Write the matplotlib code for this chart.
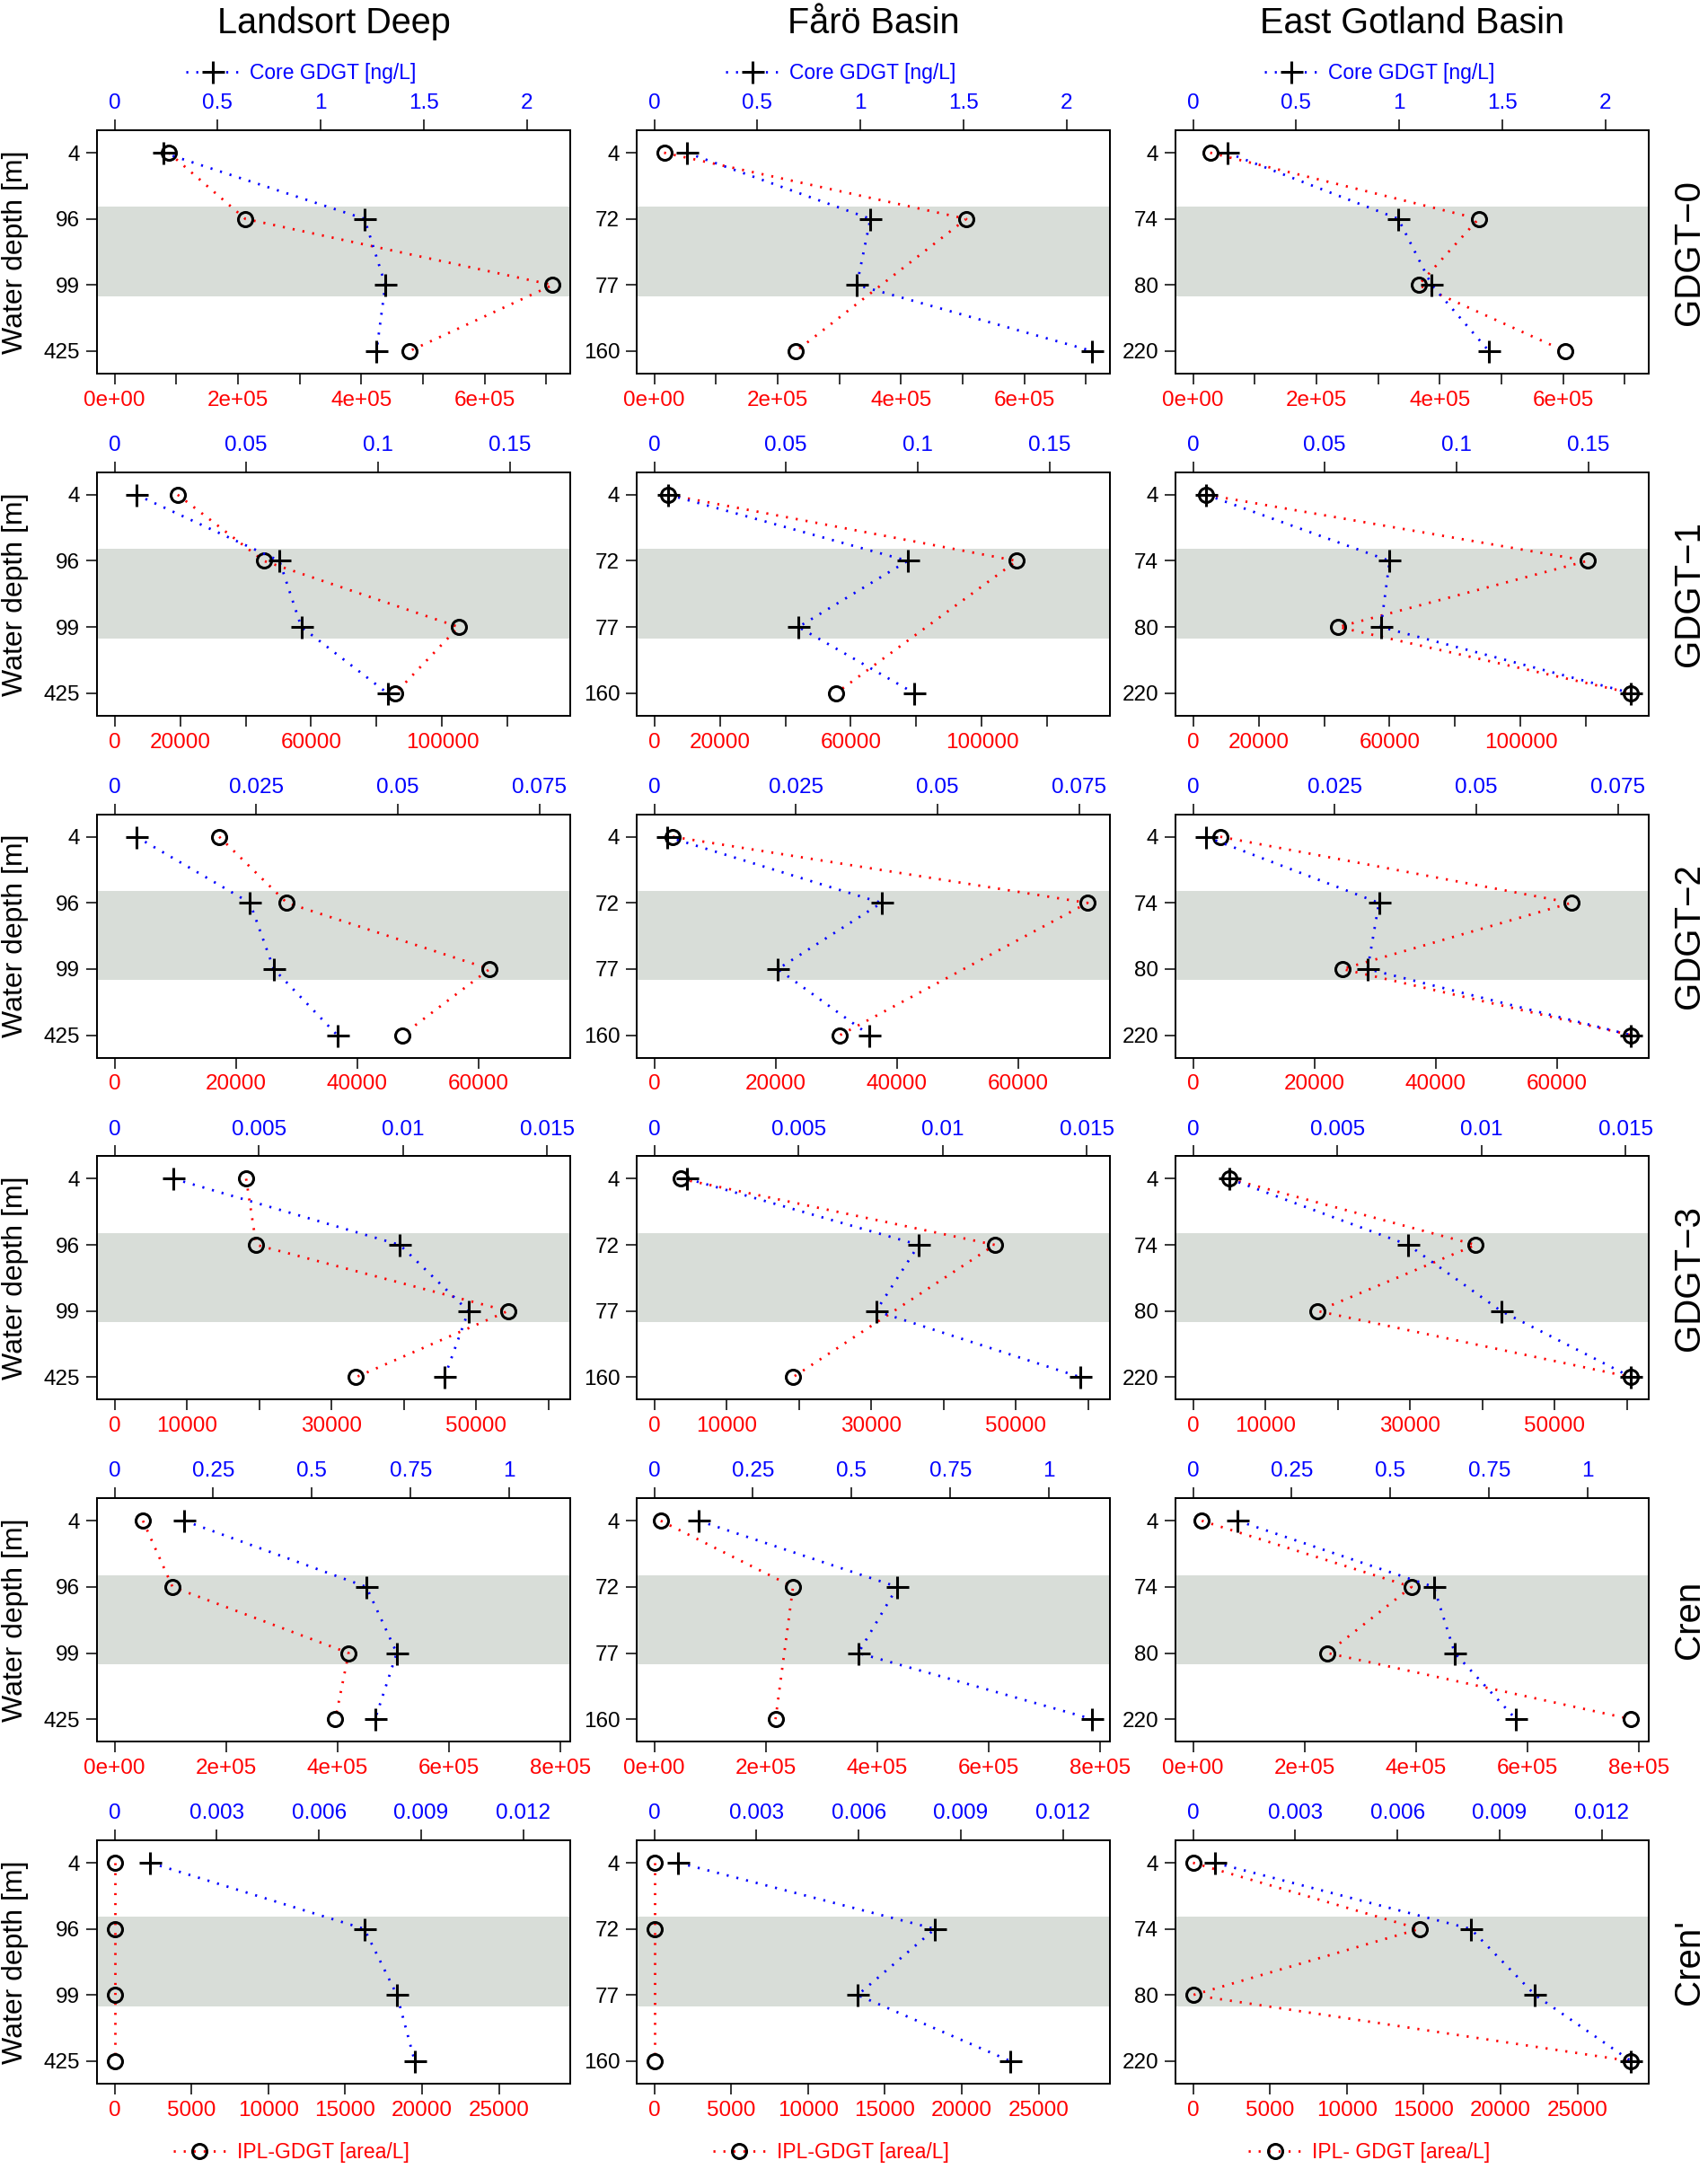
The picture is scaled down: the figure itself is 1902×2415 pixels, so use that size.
import numpy as np
import matplotlib
matplotlib.use("Agg")
import matplotlib.pyplot as plt
from matplotlib.lines import Line2D

plt.rcParams['font.family'] = ['Liberation Sans', 'DejaVu Sans']

nan = np.nan

sites = ["Landsort Deep", "Fårö Basin", "East Gotland Basin"]
depth_labels = [["4", "96", "99", "425"],
                ["4", "72", "77", "160"],
                ["4", "74", "80", "220"]]
compounds = ["GDGT\u22120", "GDGT\u22121", "GDGT\u22122", "GDGT\u22123", "Cren", "Cren'"]
core_label = "Core GDGT [ng/L]"
ipl_labels = ["IPL-GDGT [area/L]", "IPL-GDGT [area/L]", "IPL- GDGT [area/L]"]

# IPL-GDGT [area/L], one list per site (Landsort, Faro, East Gotland), depths top->bottom
ipl_gdgt0 = [[87800, 212000, 710500, 478000], [16000, 506000, nan, 230000], [27900, 463000, 365600, 603000]]
ipl_gdgt1 = [[19270, 45500, 105000, 85700], [4300, 110600, nan, 55500], [4000, 120300, 44300, 133700]]
ipl_gdgt2 = [[17250, 28400, 61800, 47400], [3060, 71400, nan, 30600], [4500, 62300, 24600, 72200]]
ipl_gdgt3 = [[18200, 19600, 54400, 33400], [3600, 47100, nan, 19200], [5000, 39100, 17200, 60600]]
ipl_cren = [[51000, 104000, 420000, 396000], [11800, 249000, nan, 217600], [15700, 392000, 241000, 786000]]
ipl_crenp = [[0, 0, 0, 0], [0, 0, nan, 0], [0, 14720, 0, 28500]]

# Core GDGT [ng/L]
core_gdgt0 = [[0.236, 1.213, 1.314, 1.271], [0.158, 1.049, 0.983, 2.126], [0.166, 0.996, 1.158, 1.436]]
core_gdgt1 = [[0.0083, 0.0626, 0.0709, 0.1036], [0.0054, 0.0962, 0.0547, 0.0987], [0.005, 0.0746, 0.0713, 0.1663]]
core_gdgt2 = [[0.00385, 0.0239, 0.0281, 0.0393], [0.0023, 0.0401, 0.0218, 0.038], [0.0023, 0.0328, 0.0308, 0.0773]]
core_gdgt3 = [[0.00205, 0.00989, 0.01227, 0.01144], [0.00114, 0.00917, 0.00769, 0.01477], [0.00125, 0.00746, 0.01068, 0.01519]]
core_cren = [[0.177, 0.638, 0.715, 0.660], [0.113, 0.616, 0.517, 1.110], [0.113, 0.610, 0.663, 0.818]]
core_crenp = [[0.00105, 0.00733, 0.00829, 0.00881], [0.00071, 0.00824, 0.00597, 0.01046], [0.00064, 0.00815, 0.01004, 0.01286]]

ipl_rows = [ipl_gdgt0, ipl_gdgt1, ipl_gdgt2, ipl_gdgt3, ipl_cren, ipl_crenp]
core_rows = [core_gdgt0, core_gdgt1, core_gdgt2, core_gdgt3, core_cren, core_crenp]

# axis ticks
ipl_ticks = [[0, 1e5, 2e5, 3e5, 4e5, 5e5, 6e5, 7e5],
             [0, 20000, 40000, 60000, 80000, 100000, 120000],
             [0, 20000, 40000, 60000],
             [0, 10000, 20000, 30000, 40000, 50000, 60000],
             [0, 2e5, 4e5, 6e5, 8e5],
             [0, 5000, 10000, 15000, 20000, 25000]]
ipl_ticklabels = [["0e+00", "", "2e+05", "", "4e+05", "", "6e+05", ""],
                  ["0", "20000", "", "60000", "", "100000", ""],
                  ["0", "20000", "40000", "60000"],
                  ["0", "10000", "", "30000", "", "50000", ""],
                  ["0e+00", "2e+05", "4e+05", "6e+05", "8e+05"],
                  ["0", "5000", "10000", "15000", "20000", "25000"]]
core_ticks = [[0, 0.5, 1, 1.5, 2],
              [0, 0.05, 0.1, 0.15],
              [0, 0.025, 0.05, 0.075],
              [0, 0.005, 0.01, 0.015],
              [0, 0.25, 0.5, 0.75, 1],
              [0, 0.003, 0.006, 0.009, 0.012]]

# layout (pixels)
W, H = 1902, 2415
col_left = [108, 709, 1309]
box_w = 527
row_top0 = 145
row_pitch = 380.8
box_h = 271
band = "#d8ddd8"
dots = (0, (0.8, 3.2))
ypos = np.arange(1, 5)
tick_fs = 17.5

fig = plt.figure(figsize=(W / 100, H / 100), dpi=100)

for r in range(6):
    top = row_top0 + r * row_pitch
    ipl_max = np.nanmax(np.array(ipl_rows[r], float))
    core_max = np.nanmax(np.array(core_rows[r], float))
    for c in range(3):
        ax = fig.add_axes([col_left[c] / W, 1 - (top + box_h) / H, box_w / W, box_h / H])
        ax.axhspan(1.82, 3.17, color=band, lw=0, zorder=0)

        ipl = np.array(ipl_rows[r][c], float)
        core = np.array(core_rows[r][c], float)
        ok = ~np.isnan(ipl)
        ax.plot(ipl[ok], ypos[ok], color="red", ls=dots, lw=2, zorder=2)
        ax.plot(ipl[ok], ypos[ok], ls="none", marker="o", mfc="none", mec="black",
                ms=11.5, mew=2.2, zorder=3)
        ax.set_xlim(-0.04 * ipl_max, 1.04 * ipl_max)
        ax.set_ylim(4.34, 0.66)
        ax.set_xticks(ipl_ticks[r])
        ax.set_xticklabels(ipl_ticklabels[r], color="red", fontsize=tick_fs)
        ax.set_yticks(ypos)
        ax.set_yticklabels(depth_labels[c], fontsize=tick_fs)
        ax.tick_params(axis="both", direction="out", length=8.5, width=1.1, pad=5)

        ax2 = ax.twiny()
        ax2.plot(core, ypos, color="blue", ls=dots, lw=2, zorder=2)
        ax2.plot(core, ypos, ls="none", marker="+", color="black", ms=18, mew=2.2, zorder=3)
        ax2.set_xlim(-0.04 * core_max, 1.04 * core_max)
        ax2.set_xticks(core_ticks[r])
        ax2.set_xticklabels([f"{v:g}" for v in core_ticks[r]], color="blue", fontsize=tick_fs)
        ax2.tick_params(axis="x", direction="out", length=8.5, width=1.1, pad=5)

        for a in (ax, ax2):
            for s in a.spines.values():
                s.set_linewidth(1.3)

        if c == 0:
            ax.set_ylabel("Water depth [m]", fontsize=23)
            ax.yaxis.set_label_coords(-0.145, 0.5)

        if r == 0:
            h = Line2D([], [], color="blue", ls=dots, lw=2, marker="+", ms=18, mew=2.2, mec="black")
            ax2.legend([h], [core_label], loc="center", bbox_to_anchor=(0.432, 1.233),
                       frameon=False, fontsize=16.5, labelcolor="blue",
                       handlelength=2.6, handletextpad=0.5)
            fig.text((col_left[c] + box_w / 2) / W, 1 - 26 / H, sites[c],
                     ha="center", va="center", fontsize=28.5)
        if r == 5:
            h = Line2D([], [], color="red", ls=dots, lw=2, marker="o", mfc="none",
                       ms=11.5, mew=2.2, mec="black")
            ax.legend([h], [ipl_labels[c]], loc="center", bbox_to_anchor=(0.41, -0.284),
                      frameon=False, fontsize=16.5, labelcolor="red",
                      handlelength=2.6, handletextpad=0.5)

    fig.text(1881 / W, 1 - (top + box_h / 2) / H, compounds[r], rotation=90,
             ha="center", va="center", fontsize=29)

fig.savefig("out.png", dpi=100)
